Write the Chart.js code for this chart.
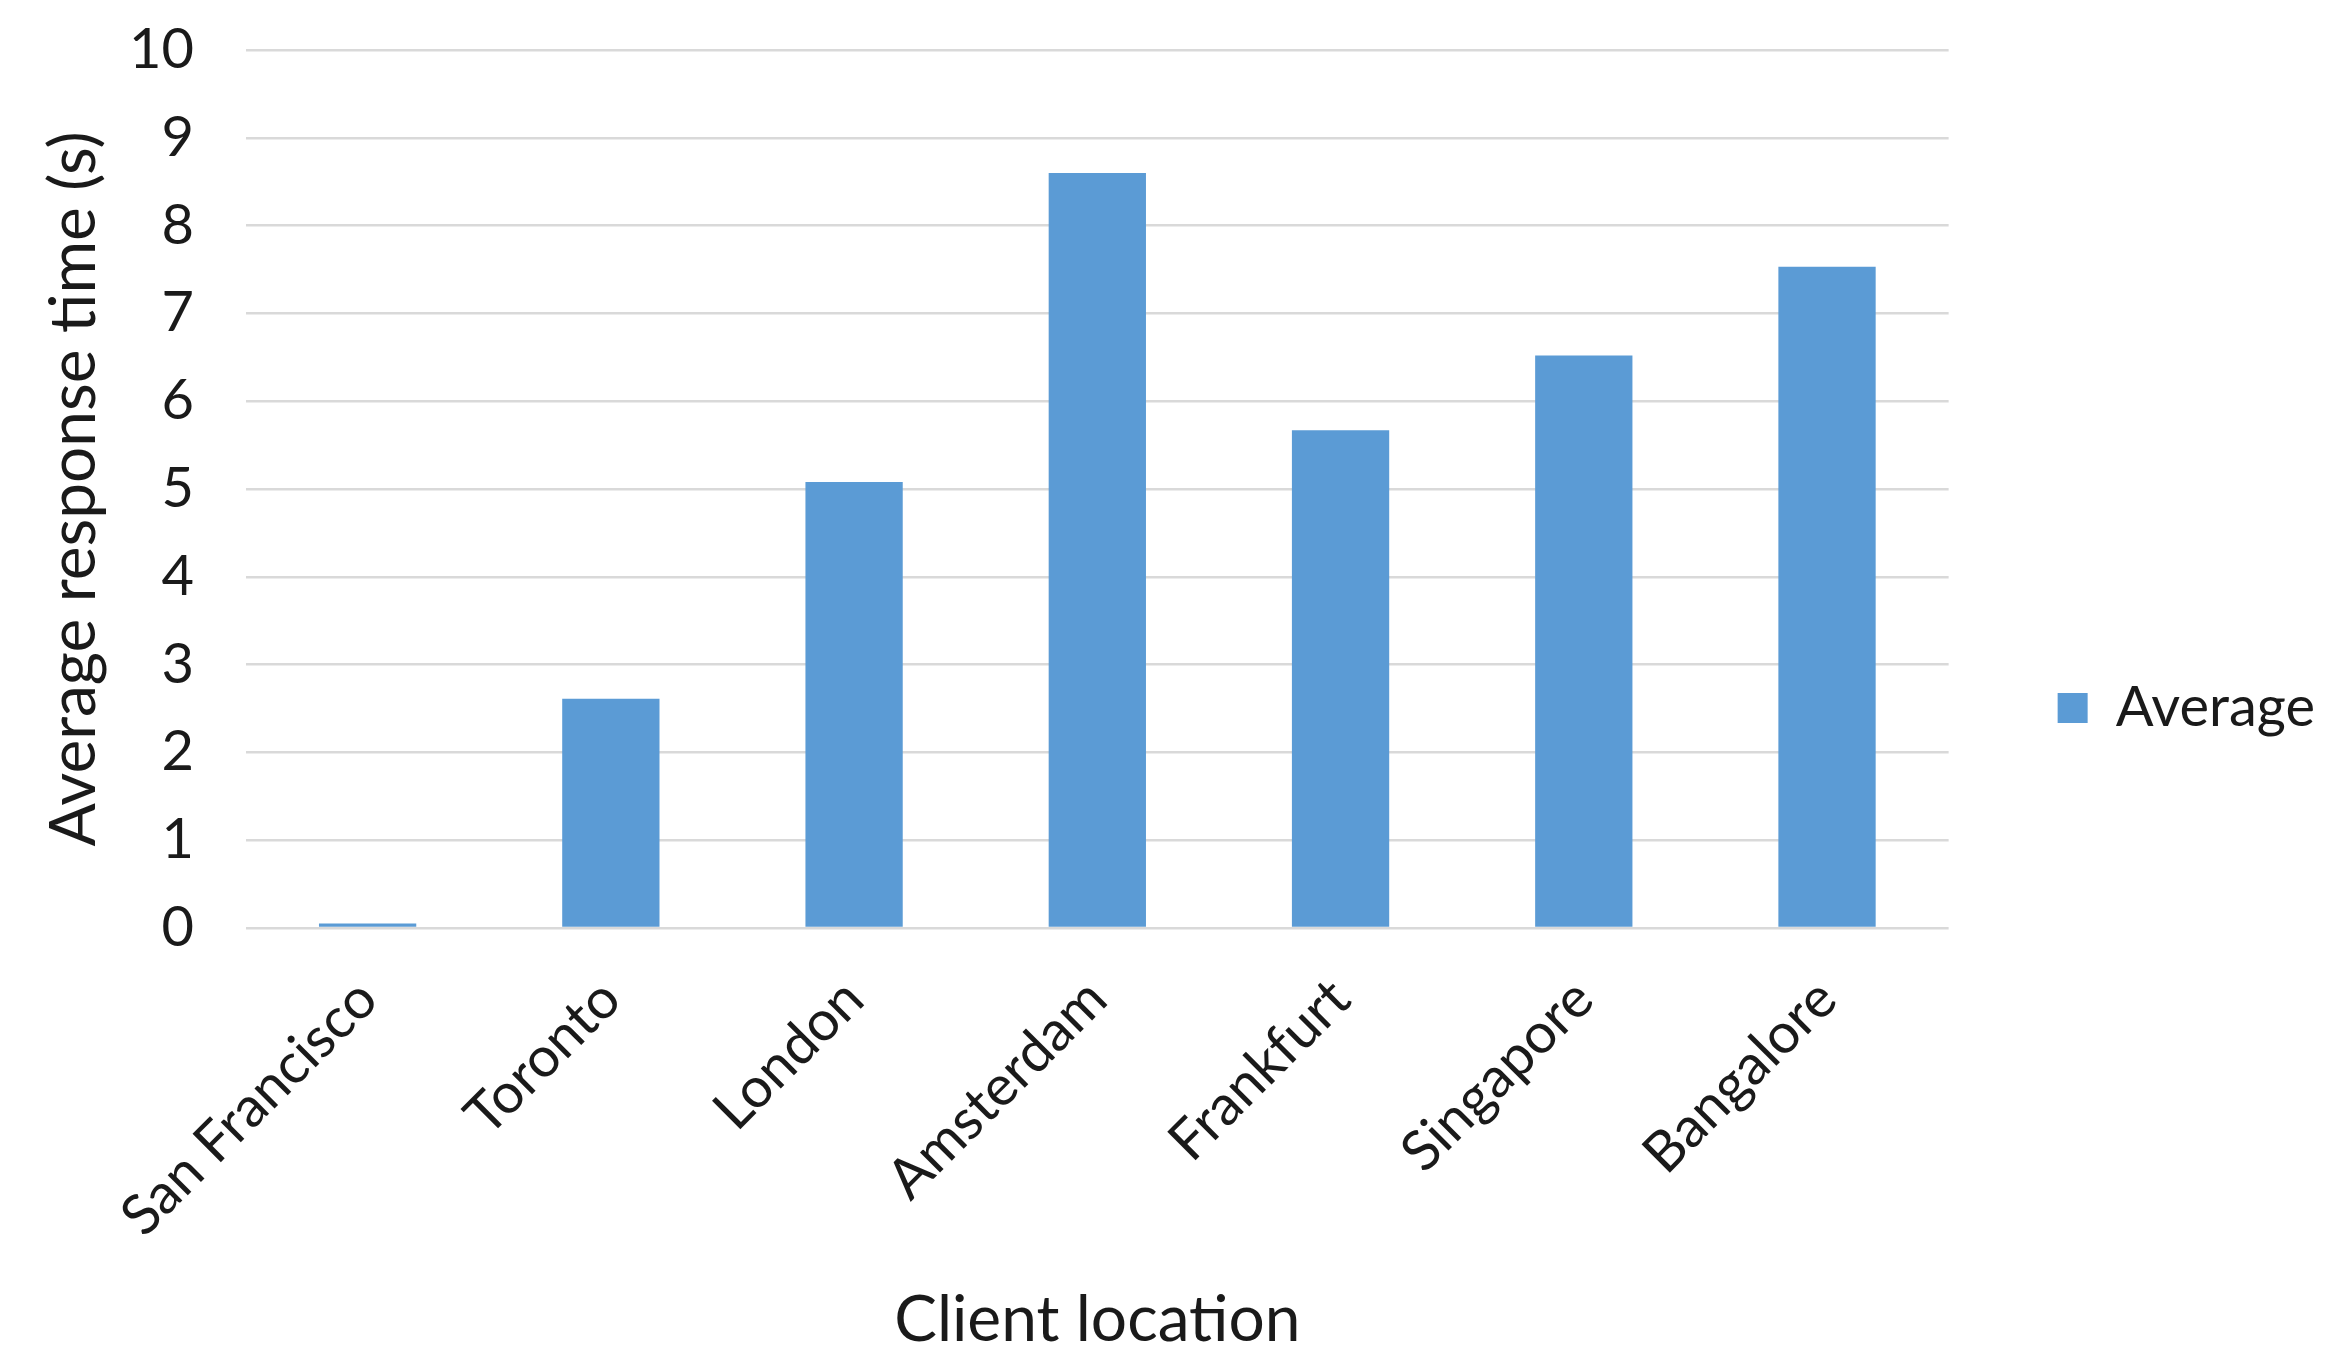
<!DOCTYPE html>
<html>
<head>
<meta charset="utf-8">
<script src="https://cdn.jsdelivr.net/npm/chart.js@4.4.1/dist/chart.umd.min.js"></script>
<style>
	html, body { margin: 0; padding: 0; background: #fff; }
	#wrap { width: 2335px; height: 1366px; }
</style>
</head>
<body>
<div id="wrap"><canvas id="chart" width="2335" height="1366"></canvas></div>
<script>
// values
const locations = ['San Francisco', 'Toronto', 'London', 'Amsterdam', 'Frankfurt', 'Singapore', 'Bangalore'];
const avgResponse = [0.05, 2.61, 5.08, 8.6, 5.67, 6.52, 7.53];
const seriesLabel = 'Average';
const yMin = 0;
const yMax = 10;
const yStep = 1;

const BAR_BLUE = '#5b9bd5';
const GRID_GREY = '#d9d9d9';
const TEXT = '#1a1a1a';
const FONT = 'Lato, "Open Sans", sans-serif';

const ctx = document.getElementById('chart').getContext('2d');

new Chart(ctx, {
	type: 'bar',
	data: {
		labels: locations,
		datasets: [{
			label: seriesLabel,
			data: avgResponse,
			backgroundColor: BAR_BLUE,
			borderWidth: 0,
			categoryPercentage: 1.0,
			barPercentage: 0.4,
		}],
	},
	options: {
		responsive: false,
		animation: false,
		devicePixelRatio: 1,
		layout: { padding: { top: 50, right: 10, bottom: 0, left: 0 } },
		plugins: {
			tooltip: { enabled: false },
			legend: {
				position: 'right',
				labels: {
					color: TEXT,
					font: { family: FONT, size: 56 },
					boxWidth: 30,
					boxHeight: 30,
					padding: 109,
				},
			},
		},
		scales: {
			x: {
				grid: { display: false },
				border: { display: false },
				ticks: {
					color: TEXT,
					font: { family: FONT, size: 56 },
					maxRotation: 45,
					minRotation: 45,
					padding: 30,
				},
				title: {
					display: true,
					text: 'Client location',
					color: TEXT,
					font: { family: FONT, size: 64 },
					padding: { top: 4, bottom: 7 },
				},
				afterFit: (scale) => {
					scale.height = 1366 - 928;
				},
			},
			y: {
				min: yMin,
				max: yMax,
				border: { display: false },
				grid: { color: GRID_GREY, lineWidth: 2.5, drawTicks: false },
				ticks: {
					stepSize: yStep,
					color: TEXT,
					font: { family: FONT, size: 56 },
					padding: 52,
				},
				title: {
					display: true,
					text: 'Average response time (s)',
					color: TEXT,
					font: { family: FONT, size: 64 },
					padding: { top: 36, bottom: 4 },
				},
				afterFit: (scale) => {
					scale.width = 246;
					// keep the plot top fixed by the layout padding only
					scale.paddingTop = 0;
					scale.paddingBottom = 0;
				},
			},
		},
	},
});
</script>
</body>
</html>
